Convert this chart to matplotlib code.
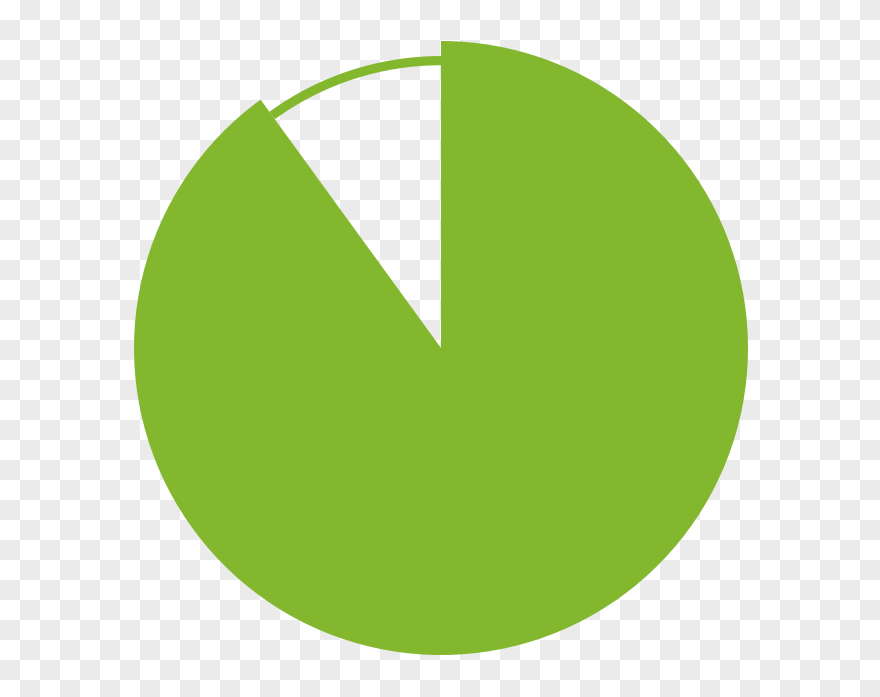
import numpy as np
import matplotlib
matplotlib.use("Agg")
import matplotlib.pyplot as plt

# pie data: big share and small share (clockwise from 12 o'clock)
labels = ["main", "rest"]
values = [90, 10]

green = "#83b72e"

W, H = 880, 697
fig = plt.figure(figsize=(W / 100, H / 100), dpi=100)

# checkerboard background (transparent png preview look)
yy, xx = np.mgrid[0:H, 0:W]
checker = ((xx // 20 + yy // 20) % 2).astype(float)
bg = np.where(checker[..., None] == 1, [0.925, 0.925, 0.925], [1.0, 1.0, 1.0])
fig.figimage(bg, xo=0, yo=0, origin="upper", zorder=-10)

# axes box in pixels around the pie
cx, cy, r = 441, 348, 307
ax = fig.add_axes([(cx - r) / W, (H - cy - r) / H, 2 * r / W, 2 * r / H])
ax.set_zorder(5)
ax.patch.set_visible(False)

# full slices
ax.pie(values, colors=[green, "none"], startangle=90, counterclock=False,
       radius=1.0, wedgeprops={"linewidth": 0})
# thin ring over the small slice
ax.pie(values, colors=["none", green], startangle=90, counterclock=False,
       radius=0.951, wedgeprops={"width": 0.03, "linewidth": 0})

ax.set_xlim(-1, 1)
ax.set_ylim(-1, 1)
ax.set_aspect("auto")
ax.axis("off")

fig.savefig("out.png", dpi=100)
